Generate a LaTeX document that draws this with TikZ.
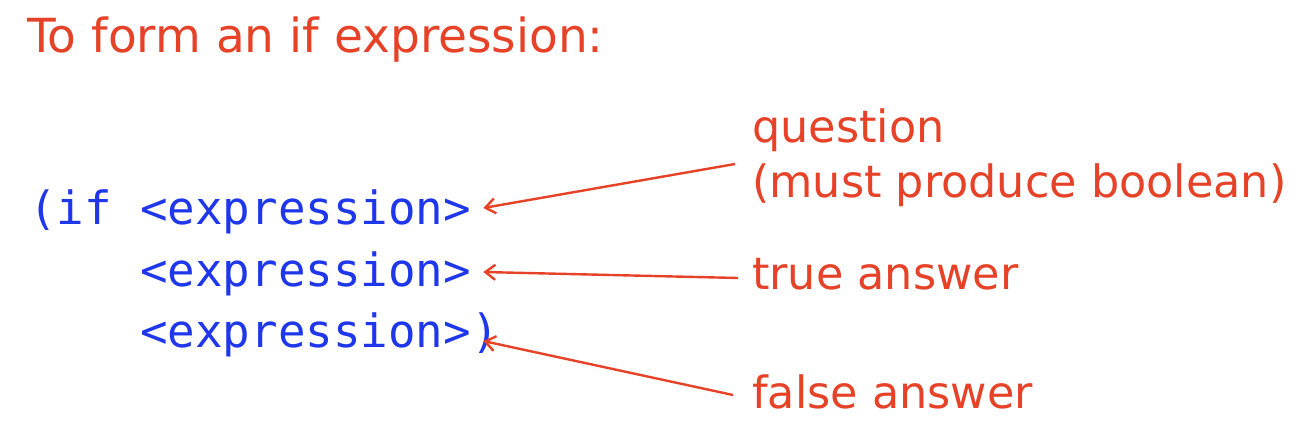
\documentclass[tikz,border=0pt]{standalone}
\usepackage{fontspec}
\setmainfont{DejaVu Sans}
\setmonofont{DejaVu Sans Mono}
\usetikzlibrary{arrows.meta}
\definecolor{lred}{RGB}{230,66,40}
\definecolor{cblue}{RGB}{30,55,235}
\begin{document}
\begin{tikzpicture}[x=1pt,y=-1pt,
  title/.style={anchor=base west,inner sep=0pt,text=lred,font=\fontsize{47}{55}\selectfont},
  lbl/.style={anchor=base west,inner sep=0pt,text=lred,font=\fontsize{44.5}{55}\selectfont,align=left},
  code/.style={anchor=base west,inner sep=0pt,text=cblue,font=\fontsize{45.8}{61}\ttfamily},
  arr/.style={draw=lred,line width=2.4pt,-{Straight Barb[length=10pt,width=15pt,line width=2.4pt]}}]
\useasboundingbox (0,0) rectangle (1306,430);
\node[title] (t) at (27,53) {To form an if expression:};
\node[code] (c1) at (29,225) {(if};
\node[code] (e1) at (140,225) {<expression>};
\node[code] (e2) at (140,287) {<expression>};
\node[code] (e3) at (140,347) {<expression>};
\node[code] (p3) at (e3.base east) {)};
\node[lbl] (q) at (752,143) {question};
\node[lbl] (q2) at (752,198) {(must produce boolean)};
\node[lbl] (ta) at (752,290) {true answer};
\node[lbl] (fa) at (752,408) {false answer};
\draw[arr] ([shift={(-17,21)}]q.base west) -- ([shift={(12,-17)}]e1.base east);
\draw[arr] ([shift={(-14,-12)}]ta.base west) -- ([shift={(12,-15)}]e2.base east);
\draw[arr] ([shift={(-19,-13)}]fa.base west) -- ([shift={(12,-6)}]e3.base east);
\end{tikzpicture}
\end{document}
